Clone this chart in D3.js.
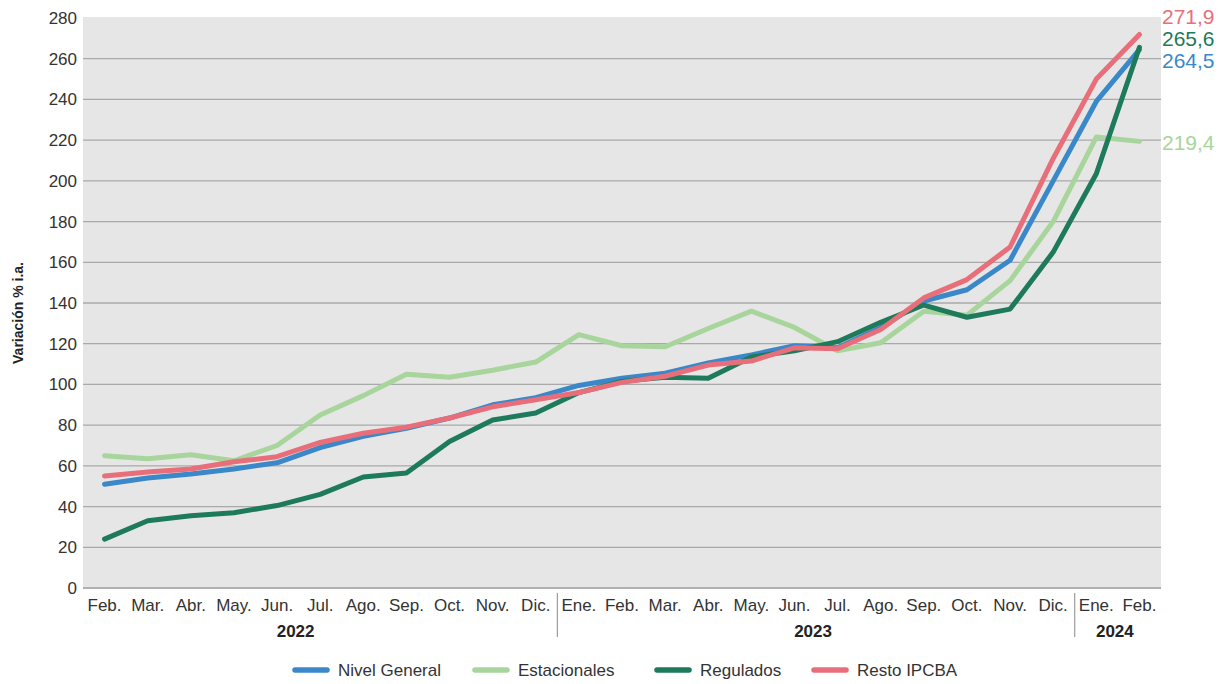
<!DOCTYPE html>
<html><head><meta charset="utf-8">
<script src="https://cdn.jsdelivr.net/npm/d3@7"></script>
<style>body{margin:0;background:#fff}svg{display:block;font-family:"Liberation Sans",Arial,sans-serif}</style>
</head><body><svg id="c" width="1224" height="684"></svg>
<script>
const months = ["Feb.","Mar.","Abr.","May.","Jun.","Jul.","Ago.","Sep.","Oct.","Nov.","Dic.","Ene.","Feb.","Mar.","Abr.","May.","Jun.","Jul.","Ago.","Sep.","Oct.","Nov.","Dic.","Ene.","Feb."];
const years = [{label:"2022", from:-1, to:10},{label:"2023", from:11, to:22},{label:"2024", from:23, to:24}];
const yTicks = [0,20,40,60,80,100,120,140,160,180,200,220,240,260,280];
const nivelGeneral = [51,54,56,58.5,61.5,69,74.5,78.5,83.5,90,93.5,99.5,103,105.5,110.5,114.5,119,118,128,141,146.5,161,200,239,264.5];
const estacionales = [65,63.5,65.5,62.5,70,85,94.5,105,103.5,107,111,124.5,119,118.5,127.5,136,128,116.5,120.5,136,134,151,180,221.5,219.4];
const regulados = [24,33,35.5,37,40.5,46,54.5,56.5,72,82.5,86,96,101.5,103.5,103,113.5,116.5,121,130.5,139,133,137,165,203.5,265.6];
const restoIPCBA = [55,57,58.5,62,64.5,71.5,76,79,83.5,89,92.5,96,101,104,109.5,111.5,118,117.5,127,142.5,151.5,167.5,211,250,271.9];
const seriesNames = ["Nivel General","Estacionales","Regulados","Resto IPCBA"];
const endLabels = ["264,5","219,4","265,6","271,9"];

const colors = ["#3a88c9","#a8d59b","#1d7a5a","#e86f7a"];
const data = [nivelGeneral, estacionales, regulados, restoIPCBA];

const svg = d3.select("#c");
const L=83, R=1161, T=18, B=588;
const x = d3.scaleBand().domain(d3.range(months.length)).range([L,R]);
const xc = i => L + x.step()*(i+0.5);
const y = d3.scaleLinear().domain([0,280]).range([B,T]);

svg.append("rect").attr("x",L).attr("y",T-1).attr("width",R-L).attr("height",B-T+1).attr("fill","#e6e6e6");
svg.append("g").selectAll("line").data(yTicks.filter(d=>d>0&&d<280)).join("line")
  .attr("x1",L).attr("x2",R).attr("y1",d=>y(d)).attr("y2",d=>y(d)).attr("stroke","#a9a9a9").attr("stroke-width",1.3);
svg.append("line").attr("x1",L).attr("x2",R).attr("y1",B).attr("y2",B).attr("stroke","#b0b0b0").attr("stroke-width",2);

svg.append("g").selectAll("text").data(yTicks).join("text")
  .attr("x",L-6).attr("y",d=>y(d)).attr("dy","0.35em").attr("text-anchor","end")
  .attr("font-size",17).attr("fill","#333").text(d=>d);

svg.append("text").attr("transform",`translate(23,${(T+B)/2+10}) rotate(-90)`).attr("text-anchor","middle")
  .attr("font-size",14).attr("font-weight","bold").attr("fill","#222").text("Variación % i.a.");

svg.append("g").selectAll("text").data(months).join("text")
  .attr("x",(d,i)=>xc(i)).attr("y",611).attr("text-anchor","middle")
  .attr("font-size",17).attr("fill","#333").text(d=>d);

svg.append("g").selectAll("text").data(years).join("text")
  .attr("x",d=>(xc(d.from)+xc(d.to))/2 - 3).attr("y",637).attr("text-anchor","middle")
  .attr("font-size",17).attr("font-weight","bold").attr("fill","#222").text(d=>d.label);

[11,23].forEach(i=>{
  svg.append("line").attr("x1",x(i)).attr("x2",x(i)).attr("y1",593).attr("y2",637).attr("stroke","#888").attr("stroke-width",1);
});

const line = d3.line().x((d,i)=>xc(i)).y(d=>y(d));
const order=[1,0,2,3];
order.forEach(k=>{
  svg.append("path").datum(data[k]).attr("d",line).attr("fill","none")
    .attr("stroke",colors[k]).attr("stroke-width",5).attr("stroke-linejoin","round").attr("stroke-linecap","round");
});

const endY = [61,143,39,17];
endLabels.forEach((t,k)=>{
  svg.append("text").attr("x",1162).attr("y",endY[k]).attr("dy","0.35em").attr("font-size",21)
    .attr("fill",colors[k]).text(t);
});

const legX = [295,475,657,814];
seriesNames.forEach((n,k)=>{
  const g = svg.append("g").attr("transform",`translate(${legX[k]},670)`);
  g.append("line").attr("x1",0).attr("x2",32).attr("stroke",colors[k]).attr("stroke-width",5.5).attr("stroke-linecap","round");
  g.append("text").attr("x",43).attr("dy","0.35em").attr("font-size",17).attr("fill","#333").text(n);
});
</script></body></html>
